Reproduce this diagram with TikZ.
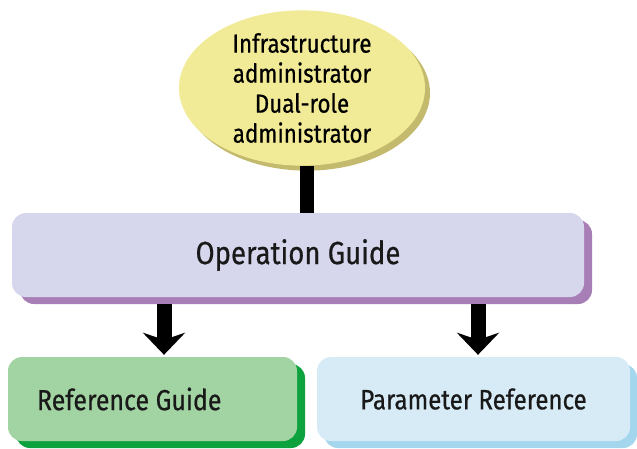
\documentclass[tikz,border=0pt]{standalone}
\usepackage{fontspec}
\setmainfont[FakeStretch=0.86,FakeBold=0.6]{Fira Sans}
\usetikzlibrary{shapes.geometric,shadows,arrows.meta}
\definecolor{ellfill}{RGB}{241,234,150}
\definecolor{ellshadow}{RGB}{196,186,110}
\definecolor{opfill}{RGB}{214,214,236}
\definecolor{opshadow}{RGB}{168,126,182}
\definecolor{reffill}{RGB}{162,211,162}
\definecolor{refshadow}{RGB}{14,162,62}
\definecolor{parfill}{RGB}{214,235,246}
\definecolor{parshadow}{RGB}{164,214,238}
\tikzset{
  boxbase/.style={rounded corners=14pt, inner sep=0pt, text=black!90},
  stem/.style={line width=14pt, black},
  downarrow/.style={line width=15pt, black, -{Stealth[length=22pt, width=42pt, inset=7pt]}},
}
\begin{document}
\begin{tikzpicture}[x=1pt,y=-1pt]
\useasboundingbox (0,0) rectangle (637,448);
\coordinate (a1) at (164,0);
\coordinate (a2) at (478,0);
\node[ellipse, fill=ellfill, minimum width=246pt, minimum height=152pt, inner sep=0pt,
      drop shadow={fill=ellshadow, opacity=1, shadow xshift=5pt, shadow yshift=-5pt},
      align=center, font=\fontsize{26}{30}\selectfont] (ell) at (302,88)
  {Infrastructure\\administrator\\Dual-role\\administrator};
\node[boxbase, fill=opfill, minimum width=572pt, minimum height=84pt,
      drop shadow={fill=opshadow, opacity=1, shadow xshift=8pt, shadow yshift=-7pt},
      font=\fontsize{32}{34}\selectfont] (op) at (298,255) {Operation Guide};
\node[boxbase, fill=reffill, minimum width=289pt, minimum height=84pt,
      drop shadow={fill=refshadow, opacity=1, shadow xshift=8pt, shadow yshift=-7pt},
      font=\fontsize{29}{32}\selectfont] (ref) at (152.5,399)
  {\makebox[231pt][l]{Reference Guide}};
\node[boxbase, fill=parfill, minimum width=313pt, minimum height=84pt,
      drop shadow={fill=parshadow, opacity=1, shadow xshift=7pt, shadow yshift=-7pt},
      font=\fontsize{28}{32}\selectfont] (par) at (473.5,399) {Parameter Reference};
\draw[stem] ([xshift=5pt]ell.south) -- ([xshift=9pt]op.north);
\draw[downarrow] ([yshift=-7pt]op.south -| a1) -- ([yshift=2pt]ref.north -| a1);
\draw[downarrow] ([yshift=-7pt]op.south -| a2) -- ([yshift=2pt]par.north -| a2);
\end{tikzpicture}
\end{document}
